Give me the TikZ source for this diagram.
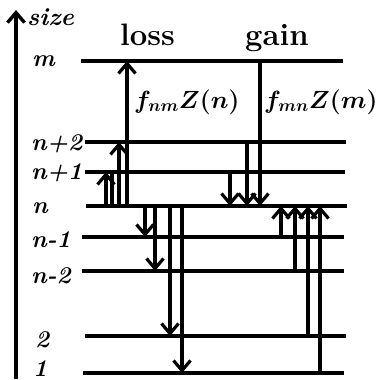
\documentclass[tikz,border=0pt]{standalone}
\usepackage{fontspec}
\usetikzlibrary{arrows.meta}
\begin{document}
\begin{tikzpicture}[x=1pt,y=-1pt,
  level/.style={line width=4pt},
  arr/.style={line width=3.2pt,-{Straight Barb[length=10pt,width=17pt]}},
  plain/.style={line width=3.2pt},
  lab/.style={anchor=base west,inner sep=0pt,font=\fontsize{24}{24}\selectfont\bfseries\itshape},
  head/.style={anchor=base west,inner sep=0pt,font=\fontsize{31}{31}\selectfont\bfseries},
  rate/.style={anchor=base west,inner sep=0pt,font=\fontsize{24}{24}\selectfont\boldmath}]
\useasboundingbox (0,0) rectangle (377,380);
% axis
\coordinate (ax0) at (16,379);
\coordinate (ax1) at (16,10);
\draw[arr,line width=3.4pt] (ax0) -- (ax1);
\node[lab,font=\fontsize{25}{25}\selectfont\bfseries\itshape] (size) at (27,25) {size};
% level coordinates
\coordinate (m)  at (0,61);
\coordinate (p2) at (0,142);
\coordinate (p1) at (0,172);
\coordinate (n)  at (0,206);
\coordinate (m1) at (0,237);
\coordinate (m2) at (0,271);
\coordinate (l2) at (0,336);
\coordinate (l1) at (0,373);
% level lines
\draw[level] (81,0 |- m)  -- (343,0 |- m);
\draw[level] (85,0 |- p2) -- (346,0 |- p2);
\draw[level] (85,0 |- p1) -- (345,0 |- p1);
\draw[level] (86,0 |- n)  -- (347,0 |- n);
\draw[level] (82,0 |- m1) -- (344,0 |- m1);
\draw[level] (82,0 |- m2) -- (344,0 |- m2);
\draw[level] (85,0 |- l2) -- (346,0 |- l2);
\draw[level] (83,0 |- l1) -- (344,0 |- l1);
% level labels
\node[lab] (tm)  at (32,66)  {m};
\node[lab] (tp2) at (31,150) {n+2};
\node[lab] (tp1) at (31,179) {n+1};
\node[lab] (tn)  at (32,213) {n};
\node[lab] (tm1) at (31,247) {n-1};
\node[lab] (tm2) at (31,283) {n-2};
\node[lab] (tl2) at (35,347) {2};
\node[lab] (tl1) at (33,376) {1};
% headings
\node[head] (loss) at (120,45) {loss};
\node[head] (gain) at (245,45) {gain};
\node[rate] (fnm) at (134,108) {$f_{nm}Z(n)$};
\node[rate] (fmn) at (264,108) {$f_{mn}Z(m)$};
% loss arrows
\draw[arr] (127,0 |- n) -- (127,0 |- m);
\draw[arr] (119,0 |- n) -- (119,0 |- p2);
\draw[arr] (106,0 |- n) -- (106,0 |- p1);
\draw[plain] (112,0 |- n) -- (112,0 |- p1);
\draw[arr] (145,0 |- n) -- (145,0 |- m1);
\draw[arr] (155,0 |- n) -- (155,0 |- m2);
\draw[arr] (170,0 |- n) -- (170,0 |- l2);
\draw[arr] (182,0 |- n) -- (182,0 |- l1);
% gain arrows
\draw[arr] (230,0 |- p1) -- (230,0 |- n);
\draw[arr] (247,0 |- p2) -- (247,0 |- n);
\draw[arr] (260,0 |- m)  -- (260,0 |- n);
\draw[arr] (281,0 |- m1) -- (281,0 |- n);
\draw[arr] (295,0 |- m2) -- (295,0 |- n);
\draw[arr] (308,0 |- l2) -- (308,0 |- n);
\draw[arr] (320,0 |- l1) -- (320,0 |- n);
\end{tikzpicture}
\end{document}
